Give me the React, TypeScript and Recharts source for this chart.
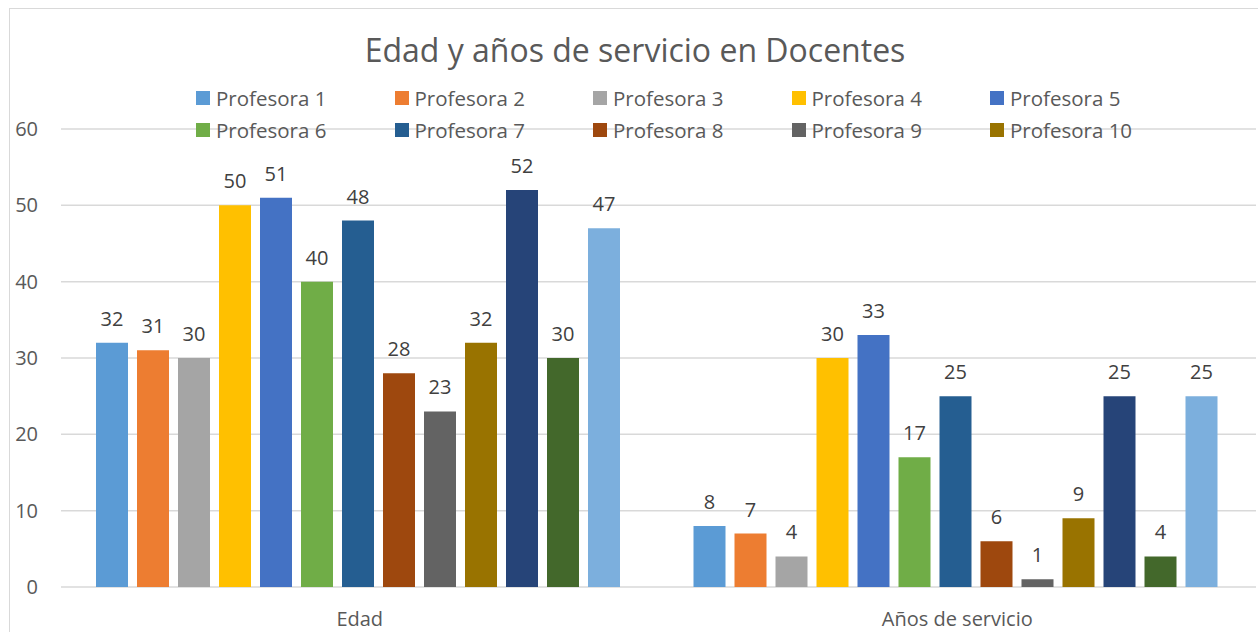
import { BarChart, Bar, XAxis, YAxis, CartesianGrid, LabelList } from "recharts";

const categories = ["Edad", "Años de servicio"];
const profesoras = [
  "Profesora 1", "Profesora 2", "Profesora 3", "Profesora 4", "Profesora 5",
  "Profesora 6", "Profesora 7", "Profesora 8", "Profesora 9", "Profesora 10",
  "Profesora 11", "Profesora 12", "Profesora 13",
];
const edad = [32, 31, 30, 50, 51, 40, 48, 28, 23, 32, 52, 30, 47];
const aniosServicio = [8, 7, 4, 30, 33, 17, 25, 6, 1, 9, 25, 4, 25];
const colors = [
  "#5B9BD5", "#ED7D31", "#A5A5A5", "#FFC000", "#4472C4", "#70AD47", "#255E91",
  "#9E480E", "#636363", "#997300", "#264478", "#43682B", "#7CAFDD",
];
const yTicks = [0, 10, 20, 30, 40, 50, 60];
const legendShown = 10;

const font = "'Open Sans', sans-serif";

const data = categories.map((name, ci) => {
  const row: Record<string, string | number> = { name };
  const values = ci === 0 ? edad : aniosServicio;
  profesoras.forEach((p, i) => {
    row[p] = values[i];
  });
  return row;
});

// only the first two rows of the legend are visible in the original
const LegendBox = () => (
  <div
    style={{
      position: "absolute",
      left: 196,
      top: 82,
      display: "grid",
      gridTemplateColumns: "repeat(5, 198.5px)",
      gridAutoRows: "32px",
      fontFamily: font,
      fontSize: 20.5,
      color: "#595959",
    }}
  >
    {profesoras.slice(0, legendShown).map((p, i) => (
      <div key={p} style={{ display: "flex", alignItems: "center", whiteSpace: "nowrap" }}>
        <span style={{ width: 14, height: 14, background: colors[i], marginRight: 6, display: "inline-block" }} />
        <span style={{ lineHeight: "32px" }}>{p}</span>
      </div>
    ))}
  </div>
);

export default function App() {
  return (
    <div
      style={{
        position: "absolute",
        left: 0,
        top: 0,
        width: 1258,
        height: 632,
        overflow: "hidden",
        background: "#fff",
      }}
    >
      <div
        style={{
          position: "absolute",
          left: 9,
          top: 8,
          width: 1400,
          height: 800,
          border: "1.5px solid #d9d9d9",
        }}
      />
      <div
        style={{
          position: "absolute",
          left: 135,
          top: 34,
          width: 1000,
          textAlign: "center",
          fontFamily: font,
          fontSize: 32,
          lineHeight: "32px",
          color: "#595959",
        }}
      >
        Edad y años de servicio en Docentes
      </div>
      <BarChart
        width={1258}
        height={632}
        data={data}
        margin={{ top: 129, right: 2, bottom: 0, left: 0 }}
        barGap={9}
        barCategoryGap={35}
        style={{ position: "absolute", left: 0, top: 0 }}
      >
        <CartesianGrid vertical={false} stroke="#d9d9d9" strokeWidth={1.5} />
        <XAxis
          dataKey="name"
          height={45}
          axisLine={false}
          tickLine={false}
          tickSize={0}
          tickMargin={25}
          tick={{ fontFamily: font, fontSize: 20, fill: "#595959" }}
        />
        <YAxis
          width={61}
          domain={[0, 60]}
          ticks={yTicks}
          axisLine={false}
          tickLine={false}
          tickSize={0}
          tickMargin={23}
          tick={{ fontFamily: font, fontSize: 20, fill: "#595959" }}
        />
        {profesoras.map((p, i) => (
          <Bar key={p} dataKey={p} fill={colors[i]} isAnimationActive={false}>
            <LabelList
              dataKey={p}
              position="top"
              offset={17}
              style={{ fontFamily: font, fontSize: 20, fill: "#404040" }}
            />
          </Bar>
        ))}
      </BarChart>
      <LegendBox />
    </div>
  );
}
